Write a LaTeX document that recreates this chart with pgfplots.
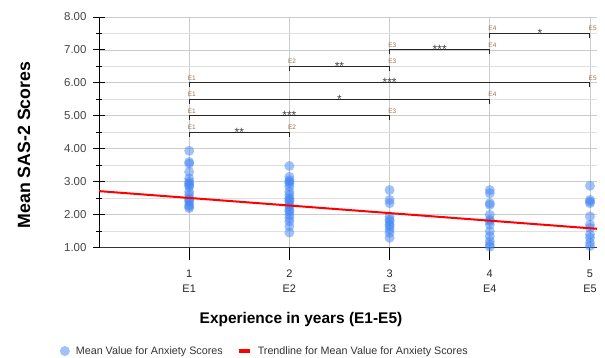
\documentclass[border=0pt]{standalone}
\usepackage{pgfplots}
\pgfplotsset{compat=1.18}
\usepackage{fontspec}
\setmainfont{Liberation Sans}
\definecolor{gblue}{RGB}{66,133,244}
\definecolor{blab}{RGB}{150,115,80}
\definecolor{tickc}{RGB}{68,68,68}
\begin{document}
\begin{tikzpicture}
\path[use as bounding box] (0,0) rectangle (605bp,-358bp);
\begin{axis}[
  at={(99bp,-247.7bp)}, anchor=south west,
  scale only axis, width=498bp, height=230.7bp,
  xmin=0.1, xmax=5.07, ymin=1, ymax=8,
  axis lines*=left,
  axis line style={black, line width=1bp},
  x axis line style={draw=black!80},
  xtick={1,2,3,4,5},
  xticklabels={{1\\E1},{2\\E2},{3\\E3},{4\\E4},{5\\E5}},
  xticklabel style={align=center, font=\fontsize{11}{14.5}\selectfont, text=black!85, yshift=-13bp},
  ytick={1,2,3,4,5,6,7,8},
  minor y tick num=1,
  yticklabel style={font=\fontsize{11.5}{13}\selectfont, text=tickc, xshift=-3bp},
  /pgf/number format/.cd, fixed, fixed zerofill, precision=2, assume math mode=true,
  /pgfplots/.cd,
  tick align=center,
  major tick length=12bp, minor tick length=6bp,
  tick style={black, line width=1bp},
  xtick style={yshift=-6bp},
  xmajorgrids, ymajorgrids, yminorgrids,
  major grid style={draw=black!20, line width=0.9bp},
  minor grid style={draw=black!12, line width=0.9bp},
  xlabel={\bfseries Experience in years (E1-E5)},
  xlabel style={font=\fontsize{15.5}{18}\selectfont, at={(axis description cs:0.4056,-0.3134)}, anchor=center},
  ylabel={\bfseries Mean SAS-2 Scores},
  ylabel style={font=\fontsize{17.8}{20}\selectfont, at={(axis description cs:-0.1506,0.445)}, anchor=center, rotate=0},
  clip mode=individual,
  legend columns=2,
  legend style={draw=none, fill=none, at={(axis description cs:-0.079,-0.448)}, anchor=west,
    font=\fontsize{10.8}{12}\selectfont, text=black!80, inner sep=0pt,
    /tikz/every odd column/.append style={column sep=4bp},
    /tikz/every even column/.append style={column sep=12bp}},
]
\addplot[only marks, mark=*, mark size=5bp, color=gblue, mark options={draw opacity=0, fill=gblue, fill opacity=0.5}]
 coordinates {
 (1,3.94) (1,3.6) (1,3.55) (1,3.3) (1,3.1) (1,3.0) (1,2.95) (1,2.9) (1,2.85) (1,2.7) (1,2.6) (1,2.5) (1,2.45) (1,2.4) (1,2.3) (1,2.25) (1,2.2)
 (2,3.48) (2,3.15) (2,3.05) (2,3.0) (2,2.95) (2,2.85) (2,2.7) (2,2.6) (2,2.5) (2,2.45) (2,2.4) (2,2.3) (2,2.25) (2,2.15) (2,2.1) (2,2.0) (2,1.9) (2,1.8) (2,1.65) (2,1.46)
 (3,2.75) (3,2.45) (3,2.35) (3,1.95) (3,1.85) (3,1.8) (3,1.7) (3,1.65) (3,1.55) (3,1.45) (3,1.3)
 (4,2.75) (4,2.65) (4,2.35) (4,2.3) (4,2.0) (4,1.85) (4,1.8) (4,1.7) (4,1.5) (4,1.35) (4,1.2) (4,1.1) (4,1.03)
 (5,2.88) (5,2.45) (5,2.4) (5,2.35) (5,1.95) (5,1.7) (5,1.6) (5,1.4) (5,1.3) (5,1.15) (5,1.05)
 };
\addlegendentry{Mean Value for Anxiety Scores}
\addplot[red, line width=2bp, legend image code/.code={\draw[red, line width=4bp] (0bp,0bp) -- (11bp,0bp);}]
 coordinates {(0.1,2.717) (5.07,1.574)};
\addlegendentry{Trendline for Mean Value for Anxiety Scores}
% significance brackets
\pgfplotsset{brk/.style={black!85, line width=1bp, forget plot}}
\addplot[brk] coordinates {(1,4.37) (1,4.5) (2,4.5) (2,4.37)};
\addplot[brk] coordinates {(1,4.87) (1,5.0) (3,5.0) (3,4.87)};
\addplot[brk] coordinates {(1,5.37) (1,5.5) (4,5.5) (4,5.37)};
\addplot[brk] coordinates {(1,5.87) (1,6.0) (5,6.0) (5,5.87)};
\addplot[brk] coordinates {(2,6.37) (2,6.5) (3,6.5) (3,6.37)};
\addplot[brk] coordinates {(3,6.87) (3,7.0) (4,7.0) (4,6.87)};
\addplot[brk] coordinates {(4,7.37) (4,7.5) (5,7.5) (5,7.37)};
\tikzset{bl/.style={font=\fontsize{6.5}{7}\selectfont, text=blab, anchor=south west, inner sep=0pt, xshift=-1.5bp, yshift=2.5bp},
         st/.style={font=\fontsize{12}{12}\selectfont, text=black!75, anchor=base, inner sep=0pt, yshift=-4bp}}
\node[bl] at (axis cs:1,4.5) {E1}; \node[bl] at (axis cs:2,4.5) {E2}; \node[st] at (axis cs:1.5,4.5) {**};
\node[bl] at (axis cs:1,5.0) {E1}; \node[bl] at (axis cs:3,5.0) {E3}; \node[st] at (axis cs:2,5.0) {***};
\node[bl] at (axis cs:1,5.5) {E1}; \node[bl] at (axis cs:4,5.5) {E4}; \node[st] at (axis cs:2.5,5.5) {*};
\node[bl] at (axis cs:1,6.0) {E1}; \node[bl] at (axis cs:5,6.0) {E5}; \node[st] at (axis cs:3,6.0) {***};
\node[bl] at (axis cs:2,6.5) {E2}; \node[bl] at (axis cs:3,6.5) {E3}; \node[st] at (axis cs:2.5,6.5) {**};
\node[bl] at (axis cs:3,7.0) {E3}; \node[bl] at (axis cs:4,7.0) {E4}; \node[st] at (axis cs:3.5,7.0) {***};
\node[bl] at (axis cs:4,7.5) {E4}; \node[bl] at (axis cs:5,7.5) {E5}; \node[st] at (axis cs:4.5,7.5) {*};
\end{axis}
\end{tikzpicture}
\end{document}
